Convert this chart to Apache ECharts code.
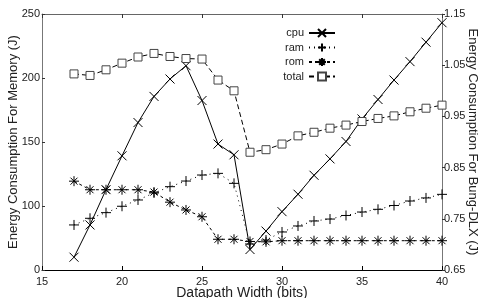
<!DOCTYPE html>
<html>
<head>
<meta charset="utf-8">
<script src="https://cdn.jsdelivr.net/npm/echarts@6/dist/echarts.min.js"></script>
<style>
  html, body { margin: 0; padding: 0; background: #fff; }
  #chart { width: 482px; height: 298px; }
</style>
</head>
<body>
<div id="chart"></div>
<script>
// datapath widths (bits)
const widths = [17, 18, 19, 20, 21, 22, 23, 24, 25, 26, 27, 28, 29, 30, 31, 32, 33, 34, 35, 36, 37, 38, 39, 40];
// Bung-DLX energy (right axis)
const cpu = [0.675, 0.738, 0.807, 0.873, 0.938, 0.989, 1.023, 1.049, 0.981, 0.896, 0.875, 0.690,
             0.726, 0.764, 0.798, 0.835, 0.867, 0.901, 0.945, 0.983, 1.021, 1.057, 1.095, 1.133];
const total = [1.033, 1.030, 1.041, 1.054, 1.066, 1.073, 1.067, 1.063, 1.062, 1.021, 1.000, 0.880,
               0.885, 0.896, 0.912, 0.919, 0.927, 0.933, 0.940, 0.946, 0.951, 0.959, 0.966, 0.972];
// memory energy (left axis)
const ram = [85.2, 90.4, 94.8, 99.8, 104.7, 110.2, 115.1, 119.5, 124.2, 125.5, 117.7, 70.3,
             73.4, 79.7, 84.4, 88.3, 89.8, 92.6, 95.3, 97.4, 100.4, 103.9, 106.3, 109.1];
const rom = [119.4, 112.7, 112.7, 112.7, 112.7, 110.9, 103.0, 96.9, 91.6, 74.0, 74.0, 72.3,
             72.0, 72.9, 72.9, 72.9, 72.9, 72.9, 72.9, 72.9, 72.9, 72.9, 72.9, 72.9];

// tick labels
const memTicks = [50, 100, 150, 200, 250];
const memTickLabels = ['0', '100', '150', '200', '250'];
const dlxTicks = [0.65, 0.75, 0.85, 0.95, 1.05, 1.15];

const FONT = 'Liberation Sans';
const pairs = (ys) => widths.map((w, i) => [w, ys[i]]);

const crossX = 'path://M0,0L10,10M10,0L0,10';
const plusS = 'path://M5,0L5,10M0,5L10,5';
const starS = 'path://M5,0L5,10M0,5L10,5M1.5,1.5L8.5,8.5M8.5,1.5L1.5,8.5';

let myChart = echarts.init(document.getElementById('chart'), null, { renderer: 'canvas' });

let option = {
  animation: false,
  backgroundColor: '#fff',
  textStyle: { fontFamily: FONT, color: '#222' },
  grid: { left: 42, right: 40, top: 14, bottom: 28, outerBoundsMode: 'none', containLabel: false },
  legend: {
    orient: 'vertical',
    right: 141,
    top: 22.5,
    align: 'right',
    itemWidth: 26,
    itemHeight: 10,
    itemGap: 3.5,
    textStyle: { fontFamily: FONT, fontSize: 11, color: '#222' },
    data: ['cpu', 'ram', 'rom', 'total']
  },
  xAxis: [
    {
      type: 'value', min: 15, max: 40, interval: 5,
      name: 'Datapath Width (bits)', nameLocation: 'middle', nameGap: 16, nameMoveOverlap: false,
      nameTextStyle: { fontFamily: FONT, fontSize: 14, color: '#222' },
      axisLine: { lineStyle: { color: '#000', width: 1 } },
      axisTick: { inside: true, length: 4, lineStyle: { color: '#000' } },
      axisLabel: { fontFamily: FONT, fontSize: 11, color: '#222', margin: 6 },
      splitLine: { show: false }
    },
    {
      type: 'value', position: 'top', min: 15, max: 40, interval: 5,
      axisLine: { lineStyle: { color: '#666' } },
      axisTick: { inside: true, length: 4, lineStyle: { color: '#333' } },
      axisLabel: { show: false },
      splitLine: { show: false }
    }
  ],
  yAxis: [
    {
      type: 'value', min: 50, max: 250, interval: 50,
      name: 'Energy Consumption For Memory (J)', nameLocation: 'middle', nameGap: 22, nameMoveOverlap: false,
      nameTextStyle: { fontFamily: FONT, fontSize: 13, color: '#222' },
      axisLine: { show: true, lineStyle: { color: '#777' } },
      axisTick: { show: true, inside: true, length: 3, lineStyle: { color: '#333' } },
      axisLabel: {
        fontFamily: FONT, fontSize: 11, color: '#222', margin: 2,
        formatter: (v) => {
          const k = memTicks.indexOf(v);
          return k >= 0 ? memTickLabels[k] : '';
        }
      },
      splitLine: { show: false }
    },
    {
      type: 'value', position: 'right', min: 0.65, max: 1.15, interval: 0.1,
      name: 'Energy Consumption For Bung-DLX (J)', nameLocation: 'middle', nameGap: 24, nameRotate: -90,
      nameMoveOverlap: false,
      nameTextStyle: { fontFamily: FONT, fontSize: 13, color: '#222' },
      axisLine: { show: true, lineStyle: { color: '#777' } },
      axisTick: { show: true, inside: false, length: 3, lineStyle: { color: '#333' } },
      axisLabel: {
        fontFamily: FONT, fontSize: 11, color: '#222', margin: 2,
        formatter: (v) => {
          const t = dlxTicks.find(d => Math.abs(d - v) < 1e-6);
          return t !== undefined ? t.toFixed(2) : '';
        }
      },
      splitLine: { show: false }
    }
  ],
  series: [
    {
      name: 'cpu', type: 'line', yAxisIndex: 1, data: pairs(cpu),
      symbol: crossX, symbolSize: 9, color: '#000',
      itemStyle: { color: '#000', borderColor: '#000', borderWidth: 1 },
      lineStyle: { color: '#000', width: 1, type: 'solid' }
    },
    {
      name: 'ram', type: 'line', yAxisIndex: 0, data: pairs(ram),
      symbol: plusS, symbolSize: 10, color: '#000',
      itemStyle: { color: '#000', borderColor: '#000', borderWidth: 1 },
      lineStyle: { color: '#000', width: 1, type: [1, 4] }
    },
    {
      name: 'rom', type: 'line', yAxisIndex: 0, data: pairs(rom),
      symbol: starS, symbolSize: 10, color: '#000',
      itemStyle: { color: '#000', borderColor: '#000', borderWidth: 1 },
      lineStyle: { color: '#000', width: 1, type: [3, 3] }
    },
    {
      name: 'total', type: 'line', yAxisIndex: 1, data: pairs(total),
      symbol: 'rect', symbolSize: 8, color: '#333',
      itemStyle: { color: '#fff', borderColor: '#444', borderWidth: 1 },
      lineStyle: { color: '#000', width: 1, type: [5, 3] }
    }
  ]
};

myChart.setOption(option);
</script>
</body>
</html>
